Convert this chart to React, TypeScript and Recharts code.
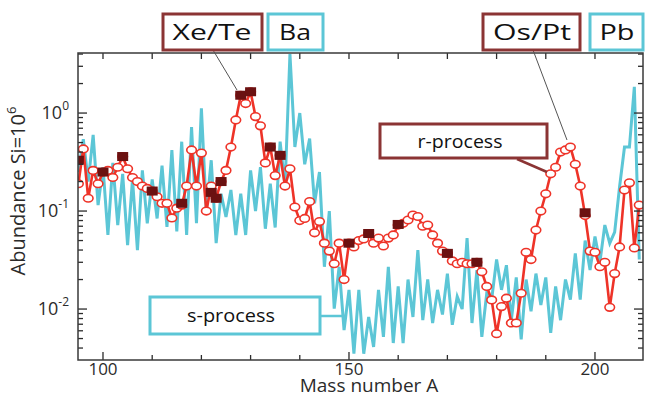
import { ComposedChart, Line, XAxis, YAxis } from 'recharts';

// mass numbers A
const sMass = [
  95, 96, 97, 98, 99, 100, 101, 102, 103, 104, 105, 106, 107, 108, 109, 110, 111, 112, 113, 114,
  115, 116, 117, 118, 119, 120, 121, 122, 123, 124, 125, 126, 127, 128, 129, 130, 131, 132, 133, 134,
  135, 136, 137, 138, 139, 140, 141, 142, 143, 144, 145, 146, 147, 148, 149, 150, 151, 152, 153, 154,
  155, 156, 157, 158, 159, 160, 161, 162, 163, 164, 165, 166, 167, 168, 169, 170, 171, 172, 173, 174,
  175, 176, 177, 178, 179, 180, 181, 182, 183, 184, 185, 186, 187, 188, 189, 190, 191, 192, 193, 194,
  195, 196, 197, 198, 199, 200, 201, 202, 203, 204, 205, 206, 207, 208, 209
];
// s-process abundances (Si = 1e6)
const sAbund = [
  0.25, 0.54, 0.2, 0.6, 0.115, 0.28, 0.057, 0.31, 0.072, 0.24, 0.045, 0.21, 0.04, 0.26, 0.075, 0.21, 0.084, 0.29, 0.069, 0.42,
  0.062, 0.51, 0.057, 0.72, 0.075, 1.12, 0.1, 0.33, 0.047, 0.15, 0.087, 0.164, 0.057, 0.15, 0.057, 0.26, 0.1, 0.28, 0.066, 0.19,
  0.068, 0.51, 0.18, 4.0, 0.45, 1.0, 0.3, 0.55, 0.12, 0.25, 0.027, 0.1, 0.0101, 0.027, 0.0061, 0.0157, 0.0035, 0.0157, 0.0035, 0.0083,
  0.0041, 0.0157, 0.0052, 0.027, 0.0045, 0.017, 0.0045, 0.02, 0.0083, 0.04, 0.0077, 0.02, 0.0072, 0.0157, 0.0088, 0.023, 0.0069, 0.0134, 0.01, 0.053,
  0.0072, 0.025, 0.0052, 0.0145, 0.0125, 0.032, 0.0157, 0.028, 0.0077, 0.021, 0.0049, 0.02, 0.0095, 0.023, 0.011, 0.021, 0.0057, 0.017, 0.0077, 0.02,
  0.0125, 0.037, 0.0125, 0.05, 0.025, 0.055, 0.03, 0.072, 0.047, 0.061, 0.177, 0.45, 0.45, 1.85, 0.032
];

const rMass = sMass;
// r-process residuals
const rAbund = [
  0.19, 0.43, 0.135, 0.26, 0.19, 0.25, 0.26, 0.22, 0.28, 0.36, 0.27, 0.22, 0.2, 0.18, 0.17, 0.16, 0.14, 0.12, 0.12, 0.085,
  0.107, 0.115, 0.18, 0.42, 0.18, 0.39, 0.1, 0.18, 0.135, 0.2, 0.26, 0.45, 0.85, 1.52, 1.25, 1.65, 0.92, 0.74, 0.31, 0.45,
  0.23, 0.37, 0.18, 0.27, 0.11, 0.08, 0.084, 0.125, 0.06, 0.078, 0.047, 0.039, 0.029, 0.047, 0.02, 0.047, 0.043, 0.05, 0.052, 0.059,
  0.047, 0.053, 0.044, 0.053, 0.057, 0.072, 0.075, 0.081, 0.091, 0.088, 0.07, 0.072, 0.057, 0.047, 0.039, 0.037, 0.031, 0.029, 0.03, 0.029,
  0.029, 0.03, 0.024, 0.017, 0.0124, 0.0056, 0.0106, 0.0129, 0.0072, 0.0072, 0.0145, 0.038, 0.032, 0.064, 0.1, 0.15, 0.24, 0.28, 0.4, 0.42,
  0.45, 0.3, 0.18, 0.09, 0.039, 0.038, 0.027, 0.03, 0.0104, 0.023, 0.043, 0.164, 0.194, 0.042, 0.115
];

// observed points (filled squares)
const obsMass = [95, 100, 104, 110, 116, 122, 123, 124, 128, 130, 134, 136, 150, 154, 160, 170, 176, 198];
const obsAbund = [0.33, 0.25, 0.36, 0.16, 0.12, 0.155, 0.135, 0.2, 1.52, 1.65, 0.45, 0.37, 0.047, 0.059, 0.073, 0.037, 0.03, 0.096];

const xMajorTicks = [100, 150, 200];
const xTicks = [100, 110, 120, 130, 140, 150, 160, 170, 180, 190, 200];
const yMajorTicks = [0.01, 0.1, 1];
const yTickExps = ['-2', '-1', '0'];
const yTicks = [
  0.004, 0.005, 0.006, 0.007, 0.008, 0.009, 0.01,
  0.02, 0.03, 0.04, 0.05, 0.06, 0.07, 0.08, 0.09, 0.1,
  0.2, 0.3, 0.4, 0.5, 0.6, 0.7, 0.8, 0.9, 1, 2, 3, 4
];

const sData = sMass.map((A, i) => ({ A, v: sAbund[i] }));
const rData = rMass.map((A, i) => ({ A, v: rAbund[i] }));
const obsData = obsMass.map((A, i) => ({ A, v: obsAbund[i] }));

const W = 645;
const H = 398;
const PL = 78;
const PR = 643;
const PT = 53;
const PB = 360;
const FONT = "'Open Sans', sans-serif";
const INK = '#2b2b2b';
const RED = '#ee3328';
const CYAN = '#5cc6d6';
const DARKRED = '#8b3434';

function XTick(props: any) {
  const { x, payload } = props;
  const major = xMajorTicks.includes(payload.value);
  return (
    <g>
      <line x1={x} x2={x} y1={PB} y2={PB - (major ? 8 : 5)} stroke={INK} strokeWidth={1.3} />
      <line x1={x} x2={x} y1={PT} y2={PT + 6} stroke={INK} strokeWidth={1.3} />
      {major && (
        <text x={x} y={375} textAnchor="middle" fontSize={17} fill={INK} fontFamily={FONT}>
          {payload.value}
        </text>
      )}
    </g>
  );
}

function YTick(props: any) {
  const { y, payload } = props;
  const idx = yMajorTicks.indexOf(payload.value);
  const len = idx >= 0 ? 9 : 5;
  return (
    <g>
      <line x1={PL} x2={PL + len} y1={y} y2={y} stroke={INK} strokeWidth={1.3} />
      <line x1={PR} x2={PR - len} y1={y} y2={y} stroke={INK} strokeWidth={1.3} />
      {idx >= 0 && (
        <text x={69} y={y + 6} textAnchor="end" fontSize={18} fill={INK} fontFamily={FONT}>
          10
          <tspan dy={-9} fontSize={12}>
            {yTickExps[idx]}
          </tspan>
        </text>
      )}
    </g>
  );
}

function RDot(props: any) {
  const { cx, cy, index } = props;
  return <ellipse key={'r' + index} cx={cx} cy={cy} rx={4.8} ry={3.8} fill="#fff" stroke={RED} strokeWidth={1.6} />;
}

function ObsDot(props: any) {
  const { cx, cy, index } = props;
  return <rect key={'o' + index} x={cx - 5.5} y={cy - 4.5} width={11} height={9} fill="#6b1111" />;
}

function Box({ x, y, w, h, color, label, tx, tl, fs }: any) {
  return (
    <g>
      <rect x={x} y={y} width={w} height={h} fill="#fff" stroke={color} strokeWidth={3} />
      <text
        x={tx}
        y={y + h / 2 + fs * 0.36}
        textAnchor="middle"
        fontSize={fs}
        fill="#111"
        fontFamily={FONT}
        textLength={tl}
        lengthAdjust="spacingAndGlyphs"
      >
        {label}
      </text>
    </g>
  );
}

export default function App() {
  return (
    <div style={{ position: 'absolute', left: 0, top: 0, width: W, height: H, background: '#fff', fontFamily: FONT }}>
      <ComposedChart width={W} height={H} margin={{ top: PT, right: W - PR, bottom: 0, left: 0 }}>
        <XAxis
          type="number"
          dataKey="A"
          domain={[94.92, 209.76]}
          ticks={xTicks}
          interval={0}
          allowDataOverflow
          axisLine={false}
          tickLine={false}
          height={H - PB}
          tick={<XTick />}
        />
        <YAxis
          type="number"
          dataKey="v"
          scale="log"
          domain={[0.00302, 4.1]}
          ticks={yTicks}
          interval={0}
          allowDataOverflow
          axisLine={false}
          tickLine={false}
          width={PL}
          tick={<YTick />}
        />
        <Line
          data={sData}
          dataKey="v"
          type="linear"
          stroke={CYAN}
          strokeWidth={3}
          dot={false}
          activeDot={false}
          isAnimationActive={false}
        />
        <Line
          data={rData}
          dataKey="v"
          type="linear"
          stroke={RED}
          strokeWidth={2.6}
          dot={<RDot />}
          activeDot={false}
          isAnimationActive={false}
        />
        <Line
          data={obsData}
          dataKey="v"
          type="linear"
          stroke="none"
          dot={<ObsDot />}
          activeDot={false}
          isAnimationActive={false}
        />
      </ComposedChart>
      <svg width={W} height={H} style={{ position: 'absolute', left: 0, top: 0, pointerEvents: 'none' }}>
        <rect x={PL} y={PT} width={PR - PL} height={PB - PT} fill="none" stroke="#3a3a3a" strokeWidth={1.5} />
        <text x={369} y={392} textAnchor="middle" fontSize={19} fill={INK} fontFamily={FONT}>
          Mass number A
        </text>
        <g transform="translate(25,191) rotate(-90)">
          <text x={0} y={0} textAnchor="middle" fontSize={20} fill={INK} fontFamily={FONT}>
            Abundance Si=10
            <tspan dy={-9} fontSize={13}>
              6
            </tspan>
          </text>
        </g>
        <line x1={213} y1={50} x2={237} y2={90} stroke="#555" strokeWidth={1} />
        <line x1={533} y1={50} x2={567} y2={140} stroke="#555" strokeWidth={1} />
        <line x1={517} y1={159} x2={547} y2={172} stroke={DARKRED} strokeWidth={2.5} />
        <line x1={320} y1={316} x2={342} y2={316} stroke={CYAN} strokeWidth={2.5} />
        <Box x={163} y={14} w={99} h={36} color={DARKRED} label="Xe/Te" tx={212} tl={79} fs={21} />
        <Box x={268} y={14} w={55} h={36} color={CYAN} label="Ba" tx={295} tl={32} fs={21} />
        <Box x={483} y={14} w={97} h={36} color={DARKRED} label="Os/Pt" tx={532} tl={78} fs={21} />
        <Box x={590} y={14} w={53} h={36} color={CYAN} label="Pb" tx={617} tl={35} fs={21} />
        <Box x={380} y={124} w={167} h={34} color={DARKRED} label="r-process" tx={460} tl={85} fs={19} />
        <Box x={150} y={297} w={170} h={37} color={CYAN} label="s-process" tx={231} tl={88} fs={19} />
      </svg>
    </div>
  );
}
